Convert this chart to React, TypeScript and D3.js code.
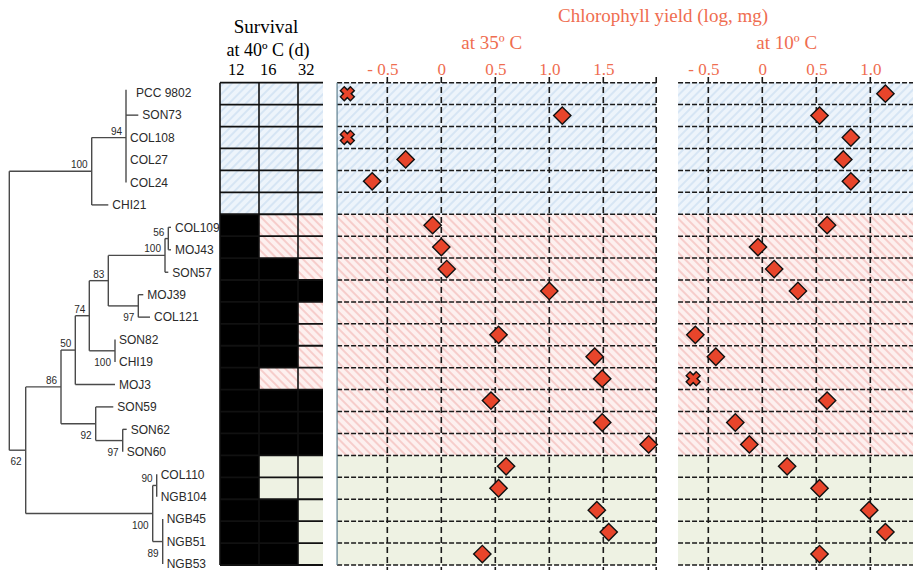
import React, { useEffect, useRef } from 'react';
import * as d3 from 'd3';

// Strains, top to bottom
const strains = ['PCC 9802', 'SON73', 'COL108', 'COL27', 'COL24', 'CHI21', 'COL109', 'MOJ43', 'SON57',
    'MOJ39', 'COL121', 'SON82', 'CHI19', 'MOJ3', 'SON59', 'SON62', 'SON60', 'COL110', 'NGB104',
    'NGB45', 'NGB51', 'NGB53'];

// background group of each row
const groups = ['blue', 'blue', 'blue', 'blue', 'blue', 'blue',
    'pink', 'pink', 'pink', 'pink', 'pink', 'pink', 'pink', 'pink', 'pink', 'pink', 'pink',
    'green', 'green', 'green', 'green', 'green'];

// survival at 40 C: last day column survived (0 = none)
const survivalDays = ['12', '16', '32'];
const survival = [0, 0, 0, 0, 0, 0, 12, 12, 16, 32, 16, 16, 16, 12, 32, 32, 32, 12, 12, 16, 16, 16];

// chlorophyll yield (log mg); null = not shown
const yield35 = [-0.87, 1.12, -0.87, -0.33, -0.64, null, -0.08, 0.0, 0.05, 1.0, null, 0.53, 1.42, 1.49,
    0.46, 1.49, 1.92, 0.6, 0.53, 1.44, 1.55, 0.38];
const noGrowth35 = [true, false, true, false, false, false, false, false, false, false, false, false,
    false, false, false, false, false, false, false, false, false, false];
const yield10 = [1.14, 0.53, 0.82, 0.75, 0.82, null, 0.6, -0.04, 0.11, 0.33, null, -0.62, -0.43, -0.64,
    0.6, -0.25, -0.12, 0.23, 0.53, 0.99, 1.14, 0.53];
const noGrowth10 = [false, false, false, false, false, false, false, false, false, false, false, false,
    false, true, false, false, false, false, false, false, false, false];

const ticks35 = [-0.5, 0, 0.5, 1.0, 1.5];
const ticks10 = [-0.5, 0, 0.5, 1.0];

// phylogeny: len = branch length, sup = bootstrap, low = label under the node
const tree = {
    children: [
        { len: 0.824, sup: 100, children: [
            { len: 0.343, sup: 94, children: [
                { name: 'PCC 9802', len: 0 }, { name: 'SON73', len: 0.123 }, { name: 'COL108', len: 0 },
                { name: 'COL27', len: 0 }, { name: 'COL24', len: 0 }] },
            { name: 'CHI21', len: 0.166 }] },
        { len: 0.164, sup: 62, low: true, children: [
            { len: 0.353, sup: 86, children: [
                { len: 0.143, sup: 50, children: [
                    { len: 0.14, sup: 74, children: [
                        { len: 0.19, sup: 83, children: [
                            { len: 0.567, sup: 100, children: [
                                { len: 0.033, sup: 56, children: [
                                    { name: 'COL109', len: 0.027 }, { name: 'MOJ43', len: 0.027 }] },
                                { name: 'SON57', len: 0.033 }] },
                            { len: 0.30, sup: 97, low: true, children: [
                                { name: 'MOJ39', len: 0.05 }, { name: 'COL121', len: 0.117 }] }] },
                        { len: 0.257, sup: 100, low: true, children: [
                            { name: 'SON82', len: 0 }, { name: 'CHI19', len: 0 }] }] },
                    { name: 'MOJ3', len: 0.397 }] },
                { len: 0.347, sup: 92, low: true, children: [
                    { name: 'SON59', len: 0.176 },
                    { len: 0.27, sup: 97, low: true, children: [
                        { name: 'SON62', len: 0.04 }, { name: 'SON60', len: 0 }] }] }] },
            { len: 1.27, sup: 100, low: true, children: [
                { len: 0.04, sup: 90, children: [{ name: 'COL110', len: 0 }, { name: 'NGB104', len: 0 }] },
                { len: 0.10, sup: 89, low: true, children: [
                    { name: 'NGB45', len: 0 }, { name: 'NGB51', len: 0 }, { name: 'NGB53', len: 0 }] }] }] }
    ]
};

const width = 913;
const height = 570;
const SALMON = '#ef6d50';
const MARK = '#e8452b';
const SERIF = '"Liberation Serif", "Times New Roman", serif';
const SANS = '"Liberation Sans", Arial, sans-serif';

function App() {
    const chartElement = useRef(null);

    useEffect(() => {
        const svg = d3.select(chartElement.current).html('')
            .attr('width', width).attr('height', height);

        // hatch patterns
        const defs = svg.append('defs');
        const hatch = (id, base, stripe, angle) => {
            const p = defs.append('pattern').attr('id', id)
                .attr('patternUnits', 'userSpaceOnUse').attr('width', 6).attr('height', 6)
                .attr('patternTransform', 'rotate(' + angle + ')');
            p.append('rect').attr('width', 6).attr('height', 6).attr('fill', base);
            p.append('line').attr('x1', 1).attr('x2', 1).attr('y1', 0).attr('y2', 6)
                .attr('stroke', stripe).attr('stroke-width', 2);
        };
        hatch('hatch-blue', '#edf4fb', '#d6e5f4', 45);
        hatch('hatch-pink', '#fdf0ef', '#f6cdcb', -45);
        const fillFor = (g) => g === 'green' ? '#eef2e3' : 'url(#hatch-' + g + ')';

        const rowY = d3.scaleBand().domain(strains).range([82.7, 565]);
        const rowH = rowY.bandwidth();

        // ---------- tree ----------
        const treeX = d3.scaleLinear().domain([0, 1]).range([9.3, 109.3]);
        const leafY = d3.scaleLinear().domain([0, strains.length - 1]).range([92.7, 564]);
        const root = d3.hierarchy(tree);
        root.eachBefore((n) => { n.dist = (n.parent ? n.parent.dist : 0) + (n.data.len || 0); });
        root.eachAfter((n) => {
            if (n.children) n.y = (n.children[0].y + n.children[n.children.length - 1].y) / 2;
            else n.y = leafY(strains.indexOf(n.data.name));
        });
        const gTree = svg.append('g').attr('stroke', '#4a4a4a').attr('stroke-width', 1.4);
        root.descendants().forEach((n) => {
            if (n.parent && n.data.len > 0) {
                gTree.append('line').attr('x1', treeX(n.parent.dist)).attr('x2', treeX(n.dist))
                    .attr('y1', n.y).attr('y2', n.y);
            }
            if (n.children) {
                gTree.append('line').attr('x1', treeX(n.dist)).attr('x2', treeX(n.dist))
                    .attr('y1', n.children[0].y - (n.depth === 2 && n.data.sup === 94 ? 3 : 0))
                    .attr('y2', n.children[n.children.length - 1].y);
            }
        });
        const gTreeText = svg.append('g').attr('font-family', SANS).attr('fill', '#2a2a2a');
        root.leaves().forEach((n) => {
            gTreeText.append('text').attr('x', treeX(n.dist) + (n.data.name === 'PCC 9802' ? 10 : 4)).attr('y', n.y)
                .attr('dy', '0.36em').attr('font-size', 12).text(n.data.name);
        });
        root.descendants().filter((n) => n.data.sup).forEach((n) => {
            gTreeText.append('text').attr('x', treeX(n.dist) - 4)
                .attr('y', n.data.low ? n.y + 15 : n.y - 3)
                .attr('text-anchor', 'end').attr('font-size', 10).text(n.data.sup);
        });

        // ---------- survival grid ----------
        const colX = d3.scaleBand().domain(survivalDays).range([220, 337]);
        const gridRight = 323;
        const gSurv = svg.append('g');
        strains.forEach((s, i) => {
            survivalDays.forEach((d) => {
                const x0 = colX(d);
                gSurv.append('rect').attr('x', x0).attr('y', rowY(s))
                    .attr('width', Math.min(x0 + colX.bandwidth(), gridRight) - x0).attr('height', rowH)
                    .attr('fill', +d <= survival[i] ? '#000' : fillFor(groups[i]));
            });
        });
        d3.range(strains.length + 1).forEach((i) => {
            gSurv.append('line').attr('x1', 220).attr('x2', gridRight)
                .attr('y1', 82.7 + i * rowH).attr('y2', 82.7 + i * rowH)
                .attr('stroke', '#111').attr('stroke-width', 1.8);
        });
        survivalDays.forEach((d) => {
            gSurv.append('line').attr('x1', colX(d)).attr('x2', colX(d)).attr('y1', 82.7).attr('y2', 565)
                .attr('stroke', '#111').attr('stroke-width', 1.6);
        });
        const headOffset = [8, 1, 0];
        survivalDays.forEach((d, i) => {
            svg.append('text').attr('x', colX(d) + headOffset[i]).attr('y', 75)
                .attr('font-family', SERIF).attr('font-size', 16.5).text(d);
        });
        svg.append('text').attr('x', 266).attr('y', 33).attr('text-anchor', 'middle')
            .attr('font-family', SERIF).attr('font-size', 19).text('Survival');
        svg.append('text').attr('x', 268).attr('y', 56).attr('text-anchor', 'middle')
            .attr('font-family', SERIF).attr('font-size', 18).text('at 40º C (d)');

        // ---------- chlorophyll panels ----------
        const fmt = (v) => v === 0 ? '0' : v < 0 ? '- ' + Math.abs(v).toFixed(1) : v.toFixed(1);

        function drawPanel(x, extent, ticks, values, flags, title, titleX, leftBorder) {
            const g = svg.append('g');
            const x0 = x(extent[0]);
            const x1 = x(extent[1]);
            strains.forEach((s, i) => {
                g.append('rect').attr('x', x0).attr('y', rowY(s)).attr('width', x1 - x0).attr('height', rowH)
                    .attr('fill', fillFor(groups[i]));
            });
            d3.range(strains.length + 1).forEach((i) => {
                g.append('line').attr('x1', x0).attr('x2', x1)
                    .attr('y1', 82.7 + i * rowH).attr('y2', 82.7 + i * rowH)
                    .attr('stroke', '#1a1a1a').attr('stroke-width', 1.5).attr('stroke-dasharray', '5,2');
            });
            const vLines = leftBorder ? ticks.concat([extent[1]]) : ticks.concat([1.5]);
            vLines.forEach((v) => {
                g.append('line').attr('x1', x(v)).attr('x2', x(v)).attr('y1', 77).attr('y2', 570)
                    .attr('stroke', '#1a1a1a').attr('stroke-width', 1.6).attr('stroke-dasharray', '6,4');
            });
            if (leftBorder) {
                g.append('line').attr('x1', x0).attr('x2', x0).attr('y1', 82.7).attr('y2', 565)
                    .attr('stroke', '#5d7f8e').attr('stroke-width', 1.2);
            }

            const axis = g.append('g').attr('transform', 'translate(0,75)')
                .call(d3.axisTop(x).tickValues(ticks).tickSize(0).tickPadding(0).tickFormat(fmt));
            axis.select('.domain').remove();
            axis.selectAll('text').attr('font-family', SERIF).attr('font-size', 17)
                .attr('fill', SALMON).attr('dx', (d) => d < 0 ? -5 : 0);

            g.append('text').attr('x', titleX).attr('y', 49).attr('text-anchor', 'middle')
                .attr('font-family', SERIF).attr('font-size', 19).attr('fill', SALMON).text(title);

            const diamond = d3.symbol(d3.symbolSquare, 150);
            strains.forEach((s, i) => {
                const v = values[i];
                if (v === null) return;
                const cx = x(v);
                const cy = rowY(s) + rowH / 2;
                if (flags[i]) {
                    const m = g.append('g').attr('transform', 'translate(' + cx + ',' + cy + ')');
                    [[-1, -1, 1, 1], [-1, 1, 1, -1]].forEach((c) => {
                        m.append('line').attr('x1', c[0] * 5.5).attr('y1', c[1] * 5.5).attr('x2', c[2] * 5.5).attr('y2', c[3] * 5.5)
                            .attr('stroke', '#111').attr('stroke-width', 7);
                    });
                    [[-1, -1, 1, 1], [-1, 1, 1, -1]].forEach((c) => {
                        m.append('line').attr('x1', c[0] * 4.6).attr('y1', c[1] * 4.6).attr('x2', c[2] * 4.6).attr('y2', c[3] * 4.6)
                            .attr('stroke', MARK).attr('stroke-width', 4);
                    });
                } else {
                    g.append('path').attr('d', diamond)
                        .attr('transform', 'translate(' + cx + ',' + cy + ') rotate(45)')
                        .attr('fill', MARK).attr('stroke', '#111').attr('stroke-width', 1.4);
                }
            });
        }

        const x35 = d3.scaleLinear().domain([-0.5, 1.5]).range([387.3, 603.3]);
        const x10 = d3.scaleLinear().domain([-0.5, 1.5]).range([708.3, 924.3]);
        drawPanel(x35, [-0.965, 1.99], ticks35, yield35, noGrowth35, 'at 35º C', 491.7, true);
        drawPanel(x10, [-0.78, 1.7], ticks10, yield10, noGrowth10, 'at 10º C', 786.7, false);

        svg.append('text').attr('x', 663).attr('y', 22).attr('text-anchor', 'middle')
            .attr('font-family', SERIF).attr('font-size', 19).attr('fill', SALMON)
            .text('Chlorophyll yield (log, mg)');
    }, []);

    return (
        <div style={{ position: 'absolute', left: 0, top: 0, background: '#fff' }}>
            <svg ref={chartElement} style={{ display: 'block' }}></svg>
        </div>
    );
}

export default App;
